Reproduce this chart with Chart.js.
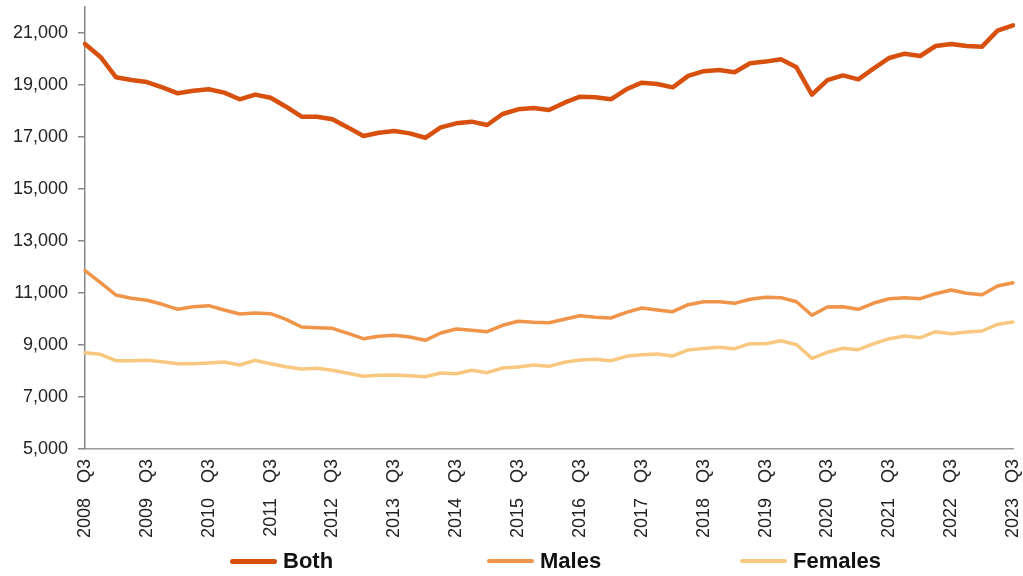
<!DOCTYPE html>
<html>
<head>
<meta charset="utf-8">
<script src="https://cdn.jsdelivr.net/npm/chart.js@4"></script>
<style>
  html, body { margin: 0; padding: 0; background: #fff; }
  #wrap { position: relative; width: 1023px; height: 576px; }
  #legend { position: absolute; left: 0; top: 548px; width: 1023px; height: 28px; font-family: "Liberation Sans", Arial, sans-serif; }
  .lg-item { position: absolute; top: 0; display: flex; align-items: center; font-weight: bold; font-size: 22px; color: #111; }
  .lg-line { width: 47px; border-radius: 3px; margin-right: 6px; }
</style>
</head>
<body>
<div id="wrap">
  <canvas id="chart" width="1023" height="576"></canvas>
  <div id="legend"></div>
</div>
<script>
// ===== quarterly series, 2008 Q3 - 2023 Q3 =====
const quarters = [
  '2008   Q3','2008   Q4','2009   Q1','2009   Q2',
  '2009   Q3','2009   Q4','2010   Q1','2010   Q2',
  '2010   Q3','2010   Q4','2011   Q1','2011   Q2',
  '2011   Q3','2011   Q4','2012   Q1','2012   Q2',
  '2012   Q3','2012   Q4','2013   Q1','2013   Q2',
  '2013   Q3','2013   Q4','2014   Q1','2014   Q2',
  '2014   Q3','2014   Q4','2015   Q1','2015   Q2',
  '2015   Q3','2015   Q4','2016   Q1','2016   Q2',
  '2016   Q3','2016   Q4','2017   Q1','2017   Q2',
  '2017   Q3','2017   Q4','2018   Q1','2018   Q2',
  '2018   Q3','2018   Q4','2019   Q1','2019   Q2',
  '2019   Q3','2019   Q4','2020   Q1','2020   Q2',
  '2020   Q3','2020   Q4','2021   Q1','2021   Q2',
  '2021   Q3','2021   Q4','2022   Q1','2022   Q2',
  '2022   Q3','2022   Q4','2023   Q1','2023   Q2',
  '2023   Q3'
];

const both = [
  20580, 20080, 19300, 19190, 19115, 18910, 18680, 18780, 18835, 18705,
  18450, 18630, 18510, 18165, 17780, 17780, 17680, 17370, 17040, 17165,
  17230, 17140, 16970, 17370, 17525, 17590, 17460, 17885, 18065, 18115,
  18040, 18320, 18550, 18525, 18450, 18835, 19090, 19040, 18910, 19350,
  19530, 19580, 19490, 19835, 19900, 19990, 19680, 18630, 19190, 19370,
  19215, 19640, 20040, 20205, 20115, 20500, 20580, 20500, 20475, 21090,
  21295
];

const males = [
  11858, 11396, 10923, 10796, 10719, 10565, 10373, 10473, 10512, 10346,
  10192, 10230, 10204, 9988, 9692, 9665, 9642, 9450, 9242, 9334,
  9373, 9308, 9180, 9462, 9615, 9565, 9512, 9758, 9912, 9873,
  9858, 9988, 10127, 10065, 10038, 10257, 10423, 10346, 10281, 10550,
  10665, 10665, 10603, 10757, 10835, 10820, 10665, 10142, 10462, 10473,
  10373, 10615, 10781, 10820, 10781, 10973, 11115, 10988, 10935, 11270,
  11396
];

const females = [
  8704, 8642, 8396, 8396, 8410, 8358, 8281, 8281, 8308, 8346,
  8231, 8410, 8281, 8165, 8077, 8103, 8027, 7912, 7796, 7835,
  7846, 7820, 7781, 7923, 7896, 8027, 7935, 8115, 8154, 8231,
  8180, 8334, 8423, 8450, 8396, 8565, 8627, 8654, 8577, 8808,
  8870, 8911, 8858, 9050, 9050, 9165, 9012, 8488, 8719, 8873,
  8819, 9050, 9242, 9346, 9281, 9512, 9435, 9500, 9538, 9796,
  9885
];

const yTicks = [5000, 7000, 9000, 11000, 13000, 15000, 17000, 19000, 21000];

const seriesStyle = [
  { label: 'Both',    data: both,    color: '#D8500E', width: 4.5, left: 230 },
  { label: 'Males',   data: males,   color: '#F0944A', width: 3.5, left: 487 },
  { label: 'Females', data: females, color: '#F9C880', width: 3.5, left: 740 }
];

const FONT = '"Liberation Sans", Arial, sans-serif';

const chart = new Chart(document.getElementById('chart'), {
  type: 'line',
  data: {
    labels: quarters,
    datasets: seriesStyle.map(s => ({
      label: s.label,
      data: s.data,
      borderColor: s.color,
      backgroundColor: s.color,
      borderWidth: s.width,
      pointRadius: 0,
      tension: 0,
      borderJoinStyle: 'round',
      borderCapStyle: 'round'
    }))
  },
  options: {
    responsive: false,
    animation: false,
    layout: { padding: { top: 7, right: 10, bottom: 37, left: 0 } },
    plugins: { legend: { display: false }, tooltip: { enabled: false } },
    scales: {
      x: {
        offset: false,
        grid: { display: false, drawTicks: false },
        border: { display: true, color: '#999', width: 1.5 },
        ticks: {
          autoSkip: false,
          maxRotation: 90,
          minRotation: 90,
          padding: 10,
          color: '#222',
          font: { family: FONT, size: 18 },
          callback: function(v, i) { return i % 4 === 0 ? quarters[i] : ''; }
        },
        afterFit: s => { s.height = 90; s.paddingLeft = 0; s.paddingRight = 0; }
      },
      y: {
        min: 5000,
        max: 22000,
        grid: { drawOnChartArea: false, drawTicks: true, tickLength: 7, color: '#888', lineWidth: 1.5 },
        border: { display: true, color: '#888', width: 1.5 },
        afterBuildTicks: axis => { axis.ticks = yTicks.map(v => ({ value: v })); },
        ticks: {
          padding: 10,
          color: '#222',
          font: { family: FONT, size: 18 },
          callback: v => v.toLocaleString('en-US')
        },
        afterFit: s => { s.width = 85; s.paddingTop = 0; s.paddingBottom = 0; }
      }
    }
  }
});

// html legend below the axis
const legend = document.getElementById('legend');
chart.data.datasets.forEach((ds, i) => {
  const item = document.createElement('div');
  item.className = 'lg-item';
  item.style.left = seriesStyle[i].left + 'px';
  item.innerHTML = '<div class="lg-line" style="background:' + ds.borderColor + ';height:' + Math.round(ds.borderWidth) + 'px"></div><span>' + ds.label + '</span>';
  legend.appendChild(item);
});
</script>
</body>
</html>
